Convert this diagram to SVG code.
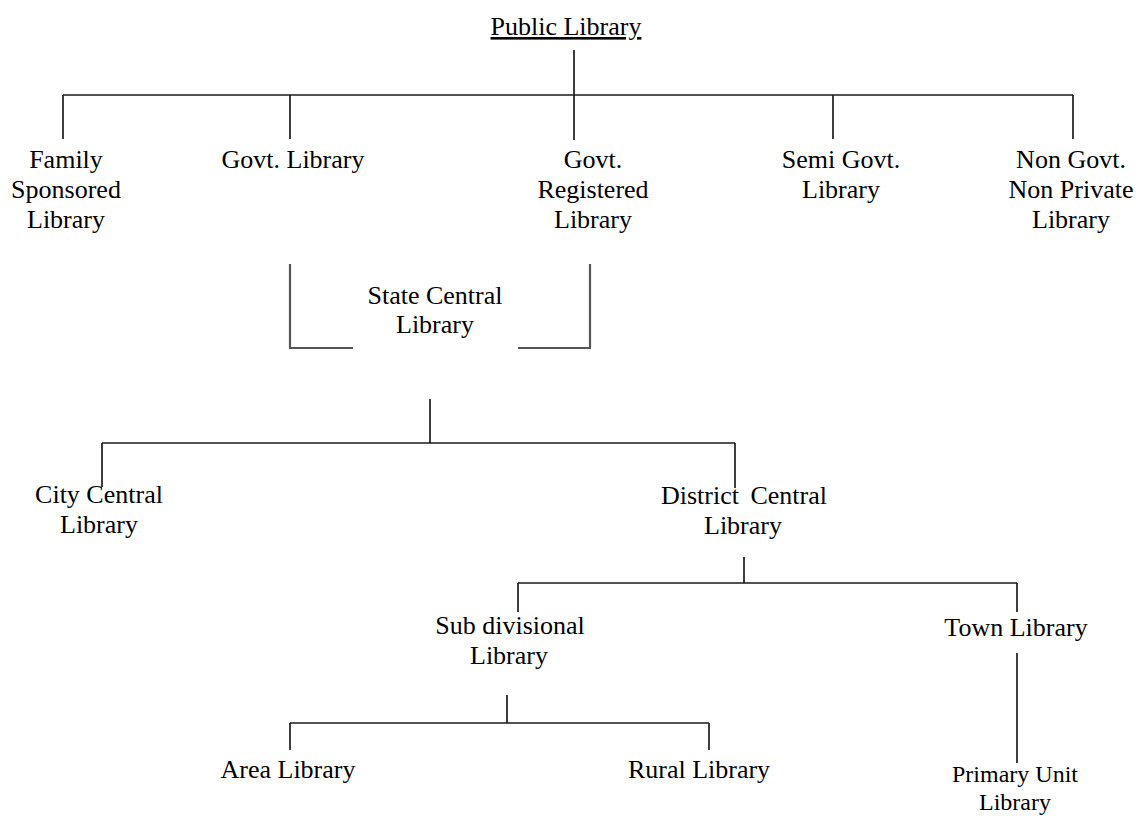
<svg xmlns="http://www.w3.org/2000/svg" width="1139" height="816" viewBox="0 0 1139 816">
<style>
text{font-family:"Liberation Serif","Times New Roman",serif;font-size:26px;fill:#000;text-anchor:middle}
.c line,.c path{stroke:#1a1a1a;stroke-width:1.7;fill:none}
.c .g{stroke:#555;stroke-width:2.2}
.s{font-size:24px}
</style>
<rect width="1139" height="816" fill="#fff"/>
<g class="c" id="connectors">
<line x1="574" y1="50" x2="574" y2="95"/>
<line x1="63" y1="95" x2="1073" y2="95"/>
<line x1="63" y1="95" x2="63" y2="139"/>
<line x1="290" y1="95" x2="290" y2="139"/>
<line x1="574" y1="95" x2="574" y2="140"/>
<line x1="833" y1="95" x2="833" y2="139"/>
<line x1="1073" y1="95" x2="1073" y2="139"/>
<path class="g" d="M290 264V348H353"/>
<path class="g" d="M590 264V348H518"/>
<line x1="430" y1="399" x2="430" y2="443"/>
<line x1="102" y1="443" x2="735" y2="443"/>
<line x1="102" y1="443" x2="102" y2="487"/>
<line x1="735" y1="443" x2="735" y2="488"/>
<line x1="744" y1="557" x2="744" y2="583"/>
<line x1="518" y1="583" x2="1017" y2="583"/>
<line x1="518" y1="583" x2="518" y2="612"/>
<line x1="1017" y1="583" x2="1017" y2="612"/>
<line x1="1017" y1="653" x2="1017" y2="763"/>
<line x1="507" y1="695" x2="507" y2="723"/>
<line x1="290" y1="723" x2="709" y2="723"/>
<line x1="290" y1="723" x2="290" y2="750"/>
<line x1="709" y1="723" x2="709" y2="750"/>
</g>
<g id="public-library"><text x="566" y="35" text-decoration="underline">Public Library</text></g>
<g id="family-sponsored"><text x="66" y="168">Family</text><text x="66" y="198">Sponsored</text><text x="66" y="228">Library</text></g>
<g id="govt-library"><text x="293" y="168">Govt. Library</text></g>
<g id="govt-registered"><text x="593" y="168">Govt.</text><text x="593" y="198">Registered</text><text x="593" y="228">Library</text></g>
<g id="semi-govt"><text x="841" y="168">Semi Govt.</text><text x="841" y="198">Library</text></g>
<g id="non-govt"><text x="1071" y="168">Non Govt.</text><text x="1071" y="198">Non Private</text><text x="1071" y="228">Library</text></g>
<g id="state-central"><text x="435" y="304">State Central</text><text x="435" y="333">Library</text></g>
<g id="city-central"><text x="99" y="503">City Central</text><text x="99" y="533">Library</text></g>
<g id="district-central"><text x="744" y="504" word-spacing="5">District Central</text><text x="743" y="534">Library</text></g>
<g id="sub-divisional"><text x="510" y="634">Sub divisional</text><text x="509" y="664">Library</text></g>
<g id="town-library"><text x="1016" y="636">Town Library</text></g>
<g id="area-library"><text x="288" y="778">Area Library</text></g>
<g id="rural-library"><text x="699" y="778">Rural Library</text></g>
<g id="primary-unit"><text class="s" x="1015" y="782">Primary Unit</text><text class="s" x="1015" y="810">Library</text></g>
</svg>
